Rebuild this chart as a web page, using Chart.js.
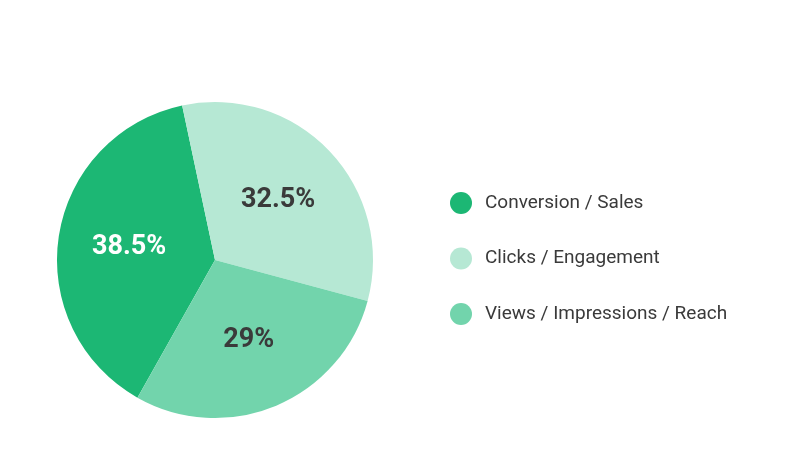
<!DOCTYPE html>
<html>
<head>
<meta charset="utf-8">
<script src="https://cdn.jsdelivr.net/npm/chart.js@4"></script>
<style>
  html, body { margin: 0; padding: 0; background: #fff; }
  #wrap { width: 795px; height: 451px; position: relative; }
</style>
</head>
<body>
<div id="wrap"><canvas id="pie"></canvas></div>
<script>
const categories = ['Conversion / Sales', 'Clicks / Engagement', 'Views / Impressions / Reach'];
const shares = [38.5, 32.5, 29];
const labelsText = ['38.5%', '32.5%', '29%'];
const colors = ['#1cb774', '#b6e8d4', '#72d4ac'];
const textColors = ['#ffffff', '#3a3a3a', '#3a3a3a'];

// percent labels inside slices
const sliceLabels = {
  id: 'sliceLabels',
  afterDatasetsDraw(chart) {
    const ctx = chart.ctx;
    chart.getDatasetMeta(0).data.forEach((arc, i) => {
      const mid = (arc.startAngle + arc.endAngle) / 2;
      const r = arc.outerRadius * 0.55;
      ctx.save();
      ctx.font = 'bold 27px Roboto';
      ctx.fillStyle = textColors[i];
      ctx.textAlign = 'center';
      ctx.textBaseline = 'middle';
      ctx.fillText(labelsText[i], arc.x + Math.cos(mid) * r, arc.y + Math.sin(mid) * r);
      ctx.restore();
    });
  }
};

// legend on the right
const sideLegend = {
  id: 'sideLegend',
  afterDraw(chart) {
    const ctx = chart.ctx;
    categories.forEach((name, i) => {
      const y = 203 + i * 55.5;
      ctx.save();
      ctx.beginPath();
      ctx.arc(461, y, 11, 0, Math.PI * 2);
      ctx.fillStyle = colors[i];
      ctx.fill();
      ctx.font = '19px Roboto';
      ctx.fillStyle = '#3a3a3a';
      ctx.textBaseline = 'middle';
      ctx.fillText(name, 485, y);
      ctx.restore();
    });
  }
};

new Chart(document.getElementById('pie'), {
  type: 'pie',
  data: {
    labels: categories,
    datasets: [{
      data: shares,
      backgroundColor: colors,
      borderWidth: 0
    }]
  },
  options: {
    responsive: true,
    maintainAspectRatio: false,
    animation: false,
    rotation: -150.6,
    layout: { padding: { left: 57, right: 422, top: 102, bottom: 33 } },
    plugins: {
      legend: { display: false },
      tooltip: { enabled: false }
    }
  },
  plugins: [sliceLabels, sideLegend]
});
</script>
</body>
</html>
